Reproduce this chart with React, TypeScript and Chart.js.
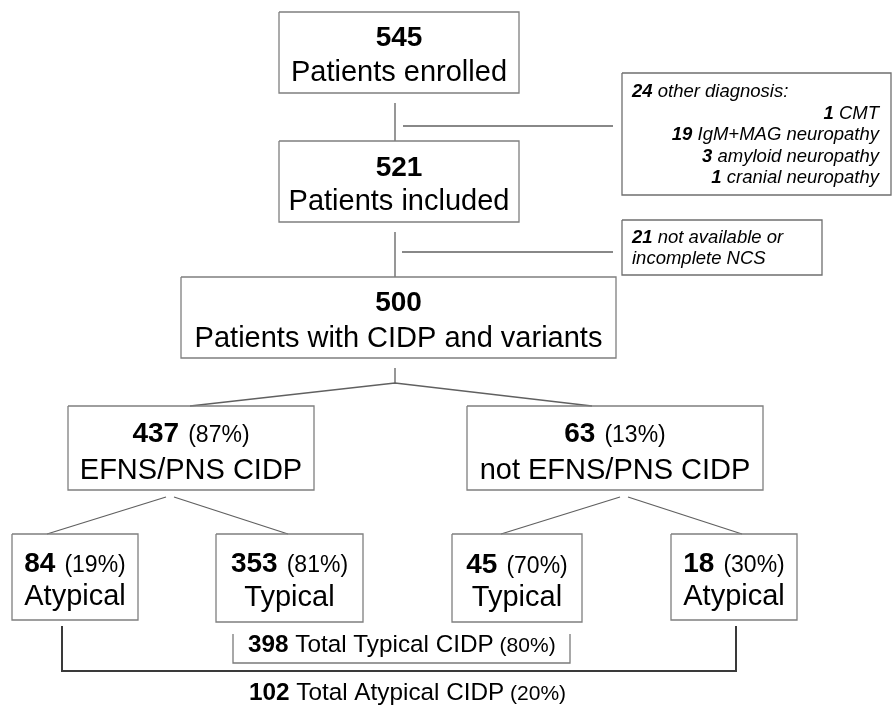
import React, { useEffect, useRef } from "react";
import { Chart, registerables } from "chart.js";

Chart.register(...registerables);

const W = 893;
const H = 709;

// ---------- data ----------
const nodeCounts = [545, 521, 500, 437, 63, 84, 353, 45, 18];
const nodeLabels = [
  "Patients enrolled",
  "Patients included",
  "Patients with CIDP and variants",
  "EFNS/PNS CIDP",
  "not EFNS/PNS CIDP",
  "Atypical",
  "Typical",
  "Typical",
  "Atypical",
];
const nodePercents: (number | null)[] = [null, null, null, 87, 13, 19, 81, 70, 30];

const otherDiagnosisTotal = 24;
const otherDiagnosisTitle = "other diagnosis:";
const otherDiagnosisCounts = [1, 19, 3, 1];
const otherDiagnosisNames = ["CMT", "IgM+MAG neuropathy", "amyloid neuropathy", "cranial neuropathy"];

const excludedNcsCount = 21;
const excludedNcsLines = ["not available or", "incomplete NCS"];

const totalCounts = [398, 102];
const totalLabels = ["Total Typical CIDP", "Total Atypical CIDP"];
const totalPercents = [80, 20];

// ---------- layout (positions in the chart's data space) ----------
const nodeBoxes = [
  [279, 12, 519, 93],
  [279, 141, 519, 222],
  [181, 277, 616, 358],
  [68, 406, 314, 490],
  [467, 406, 763, 490],
  [12, 534, 138, 620],
  [216, 534, 363, 622],
  [452, 534, 582, 622],
  [671, 534, 797, 620],
];
const nodeBaselines = [
  [46, 81],
  [176, 210],
  [311, 347],
  [442, 479],
  [442, 479],
  [572, 605],
  [572, 606],
  [573, 606],
  [572, 605],
];
const sideBoxes = [
  [622, 73, 891, 195],
  [622, 220, 822, 275],
];
const otherDiagBaselines = [97, 119, 140, 162, 183];
const excludedBaselines = [243, 264];
const sideTextLeft = 632;
const sideTextRight = 879;

const connectorPaths = [
  [[395, 103], [395, 141]],
  [[403, 126], [613, 126]],
  [[395, 232], [395, 277]],
  [[402, 252], [613, 252]],
  [[395, 368], [395, 383]],
  [[190, 406], [395, 383], [592, 406]],
  [[166, 497], [47, 534]],
  [[174, 497], [288, 534]],
  [[620, 497], [501, 534]],
  [[628, 497], [742, 534]],
];
const innerBracket = [[233, 634], [233, 663], [570, 663], [570, 634]];
const outerBracket = [[62, 626], [62, 671], [736, 671], [736, 626]];
const totalAnchors = [
  [248, 652],
  [249, 700],
];

const FONT = '"Liberation Sans", Arial, Helvetica, sans-serif';

type Run = { t: string; size: number; bold?: boolean; italic?: boolean; gap?: number };

function fontOf(r: Run) {
  return `${r.italic ? "italic " : ""}${r.bold ? "bold " : ""}${r.size}px ${FONT}`;
}

function drawRuns(ctx: CanvasRenderingContext2D, runs: Run[], x: number, y: number, align: "left" | "center" | "right") {
  const widths = runs.map((r) => {
    ctx.font = fontOf(r);
    return ctx.measureText(r.t).width + (r.gap || 0);
  });
  const total = widths.reduce((a, b) => a + b, 0);
  let cx = align === "center" ? x - total / 2 : align === "right" ? x - total : x;
  runs.forEach((r, i) => {
    ctx.font = fontOf(r);
    ctx.fillText(r.t, cx + (r.gap || 0), y);
    cx += widths[i];
  });
}

function rectPath(b: number[]) {
  const [x0, y0, x1, y1] = b;
  return [
    { x: x0, y: y0 },
    { x: x1, y: y0 },
    { x: x1, y: y1 },
    { x: x0, y: y1 },
    { x: x0, y: y0 },
  ];
}

function lineDataset(points: { x: number; y: number }[], color: string, width: number) {
  return {
    data: points,
    showLine: true,
    borderColor: color,
    backgroundColor: color,
    borderWidth: width,
    pointRadius: 0,
    pointHoverRadius: 0,
    fill: false,
    tension: 0,
    borderJoinStyle: "miter" as const,
    borderCapStyle: "butt" as const,
    clip: false as const,
  };
}

const textPlugin = {
  id: "flowText",
  afterDatasetsDraw(chart: any) {
    const ctx: CanvasRenderingContext2D = chart.ctx;
    const xs = chart.scales.x;
    const ys = chart.scales.y;
    const px = (v: number) => xs.getPixelForValue(v);
    const py = (v: number) => ys.getPixelForValue(v);
    ctx.save();
    ctx.fillStyle = "#000";
    ctx.textBaseline = "alphabetic";

    nodeCounts.forEach((count, i) => {
      const b = nodeBoxes[i];
      const cx = px((b[0] + b[2]) / 2);
      const [bl1, bl2] = nodeBaselines[i];
      const runs: Run[] = [{ t: String(count), size: 28, bold: true }];
      const p = nodePercents[i];
      if (p !== null) runs.push({ t: `(${p}%)`, size: 23, gap: 9 });
      drawRuns(ctx, runs, cx, py(bl1), "center");
      drawRuns(ctx, [{ t: nodeLabels[i], size: 29 }], cx, py(bl2), "center");
    });

    // side box 1
    drawRuns(
      ctx,
      [
        { t: String(otherDiagnosisTotal), size: 18.5, bold: true, italic: true },
        { t: " " + otherDiagnosisTitle, size: 18.5, italic: true },
      ],
      px(sideTextLeft),
      py(otherDiagBaselines[0]),
      "left"
    );
    otherDiagnosisCounts.forEach((c, i) => {
      drawRuns(
        ctx,
        [
          { t: String(c), size: 18.5, bold: true, italic: true },
          { t: " " + otherDiagnosisNames[i], size: 18.5, italic: true },
        ],
        px(sideTextRight),
        py(otherDiagBaselines[i + 1]),
        "right"
      );
    });

    // side box 2
    drawRuns(
      ctx,
      [
        { t: String(excludedNcsCount), size: 18.5, bold: true, italic: true },
        { t: " " + excludedNcsLines[0], size: 18.5, italic: true },
      ],
      px(sideTextLeft),
      py(excludedBaselines[0]),
      "left"
    );
    drawRuns(ctx, [{ t: excludedNcsLines[1], size: 18.5, italic: true }], px(sideTextLeft), py(excludedBaselines[1]), "left");

    // totals
    totalCounts.forEach((c, i) => {
      drawRuns(
        ctx,
        [
          { t: String(c), size: 24.3, bold: true },
          { t: " " + totalLabels[i], size: 24.3 },
          { t: ` (${totalPercents[i]}%)`, size: 21 },
        ],
        px(totalAnchors[i][0]),
        py(totalAnchors[i][1]),
        "left"
      );
    });
    ctx.restore();
  },
};

export default function App() {
  const ref = useRef<HTMLCanvasElement | null>(null);
  useEffect(() => {
    if (!ref.current) return;
    const toPts = (p: number[][]) => p.map(([x, y]) => ({ x, y }));
    const datasets: any[] = [];
    nodeBoxes.forEach((b) => datasets.push(lineDataset(rectPath(b), "#7f7f7f", 1.3)));
    sideBoxes.forEach((b) => datasets.push(lineDataset(rectPath(b), "#6f6f6f", 1.3)));
    connectorPaths.forEach((p) => datasets.push(lineDataset(toPts(p), "#606060", 1.3)));
    datasets.push(lineDataset(toPts(innerBracket), "#7a7a7a", 1.3));
    datasets.push(lineDataset(toPts(outerBracket), "#3a3a3a", 2));

    const chart = new Chart(ref.current, {
      type: "scatter",
      data: { datasets },
      options: {
        animation: false,
        responsive: false,
        devicePixelRatio: 1,
        events: [],
        layout: { padding: 0 },
        plugins: { legend: { display: false }, tooltip: { enabled: false } },
        scales: {
          x: { type: "linear", min: 0, max: W, display: false },
          y: { type: "linear", min: 0, max: H, reverse: true, display: false },
        },
      },
      plugins: [textPlugin],
    } as any);
    return () => chart.destroy();
  }, []);

  return (
    <div style={{ position: "fixed", left: 0, top: 0, width: W, height: H, background: "#fff" }}>
      <canvas ref={ref} width={W} height={H} style={{ display: "block", width: W, height: H }} />
    </div>
  );
}
